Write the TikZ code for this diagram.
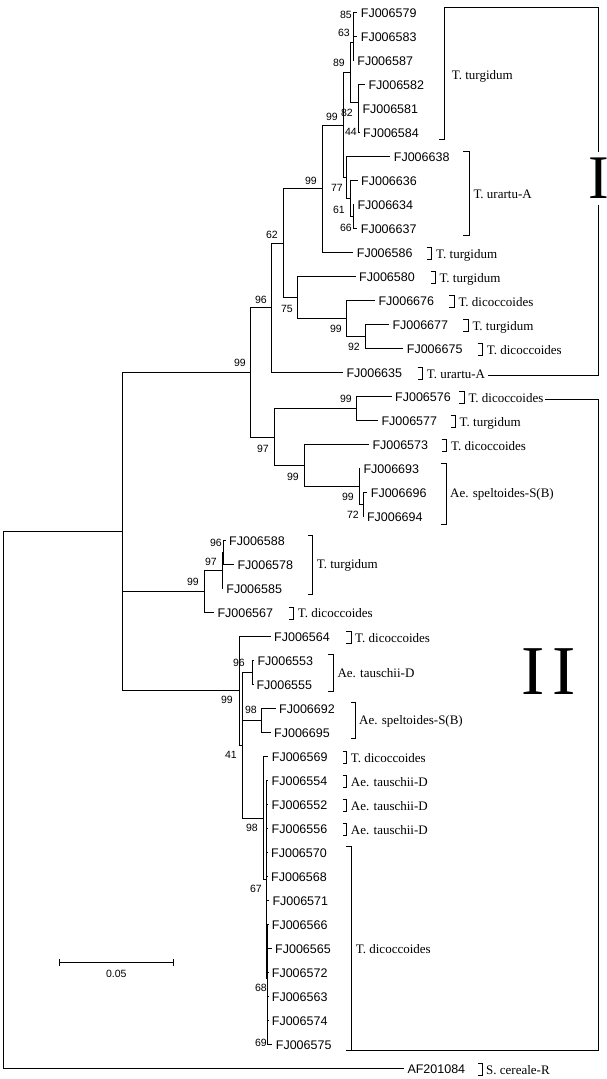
\documentclass[tikz,border=0pt]{standalone}
\usepackage{fontspec}
\setmainfont{Liberation Serif}
\setsansfont{Liberation Sans}

\begin{document}
\begin{tikzpicture}[x=1pt, y=-1pt,
  branch/.style={line width=0.9pt},
  brk/.style={line width=0.9pt},
  leaf/.style={anchor=base west, inner sep=0pt, xshift=3.5pt, yshift=-4.7pt, font=\fontsize{12.5}{14}\sffamily},
  boot/.style={anchor=base east, inner sep=0pt, yshift=-3.7pt, font=\fontsize{10.5}{12}\sffamily},
  taxon/.style={anchor=base west, inner sep=0pt, yshift=-4.3pt, font=\fontsize{13}{15}\selectfont},
  group/.style={inner sep=0pt, font=\fontsize{62}{66}\selectfont}
]
\path[fill=white, use as bounding box] (0,0) rectangle (607,1079);

\path (357.2,12.5) coordinate (t579) node[leaf] (l579) {FJ006579};
\path (357.2,36.5) coordinate (t583) node[leaf] (l583) {FJ006583};
\path (353.7,60.5) coordinate (t587) node[leaf] (l587) {FJ006587};
\path (364.8,84.5) coordinate (t582) node[leaf] (l582) {FJ006582};
\path (358.8,108.5) coordinate (t581) node[leaf] (l581) {FJ006581};
\path (359.5,132.5) coordinate (t584) node[leaf] (l584) {FJ006584};
\path (390.2,156.5) coordinate (t638) node[leaf] (l638) {FJ006638};
\path (357.5,180.5) coordinate (t636) node[leaf] (l636) {FJ006636};
\path (353.8,204.5) coordinate (t634) node[leaf] (l634) {FJ006634};
\path (357.2,228.5) coordinate (t637) node[leaf] (l637) {FJ006637};
\path (353.2,252.5) coordinate (t586) node[leaf] (l586) {FJ006586};
\path (355.5,276.5) coordinate (t580) node[leaf] (l580) {FJ006580};
\path (374.8,300.5) coordinate (t676) node[leaf] (l676) {FJ006676};
\path (388.8,324.5) coordinate (t677) node[leaf] (l677) {FJ006677};
\path (403.2,348.5) coordinate (t675) node[leaf] (l675) {FJ006675};
\path (342.8,372.5) coordinate (t635) node[leaf] (l635) {FJ006635};
\path (391.5,396.5) coordinate (t576) node[leaf] (l576) {FJ006576};
\path (377.8,420.5) coordinate (t577) node[leaf] (l577) {FJ006577};
\path (368.8,444.5) coordinate (t573) node[leaf] (l573) {FJ006573};
\path (359.8,468.5) coordinate (t693) node[leaf] (l693) {FJ006693};
\path (367.2,492.5) coordinate (t696) node[leaf] (l696) {FJ006696};
\path (363.3,516.5) coordinate (t694) node[leaf] (l694) {FJ006694};
\path (225.5,540.5) coordinate (t588) node[leaf] (l588) {FJ006588};
\path (233.8,564.5) coordinate (t578) node[leaf] (l578) {FJ006578};
\path (222.7,588.5) coordinate (t585) node[leaf] (l585) {FJ006585};
\path (213.8,612.5) coordinate (t567) node[leaf] (l567) {FJ006567};
\path (270.5,636.5) coordinate (t564) node[leaf] (l564) {FJ006564};
\path (253.8,660.5) coordinate (t553) node[leaf] (l553) {FJ006553};
\path (252.8,684.5) coordinate (t555) node[leaf] (l555) {FJ006555};
\path (275.5,708.5) coordinate (t692) node[leaf] (l692) {FJ006692};
\path (270.5,732.5) coordinate (t695) node[leaf] (l695) {FJ006695};
\path (268.2,756.5) coordinate (t569) node[leaf] (l569) {FJ006569};
\path (268.0,780.5) coordinate (t554) node[leaf] (l554) {FJ006554};
\path (268.0,804.5) coordinate (t552) node[leaf] (l552) {FJ006552};
\path (268.0,828.5) coordinate (t556) node[leaf] (l556) {FJ006556};
\path (267.5,852.5) coordinate (t570) node[leaf] (l570) {FJ006570};
\path (267.5,876.5) coordinate (t568) node[leaf] (l568) {FJ006568};
\path (268.8,900.5) coordinate (t571) node[leaf] (l571) {FJ006571};
\path (268.2,924.5) coordinate (t566) node[leaf] (l566) {FJ006566};
\path (271.5,948.5) coordinate (t565) node[leaf] (l565) {FJ006565};
\path (268.2,972.5) coordinate (t572) node[leaf] (l572) {FJ006572};
\path (268.2,996.5) coordinate (t563) node[leaf] (l563) {FJ006563};
\path (268.2,1020.5) coordinate (t574) node[leaf] (l574) {FJ006574};
\path (272.2,1044.5) coordinate (t575) node[leaf] (l575) {FJ006575};
\path (403.8,1068.5) coordinate (tAF) node[leaf] (lAF) {AF201084};

\coordinate (n85) at (353.7,24.5);  \coordinate (n63) at (353.7,42.5);
\coordinate (n44) at (358.3,120.5); \coordinate (n82) at (358.3,102.5);
\coordinate (n89) at (350.7,72.5);  \coordinate (n66) at (353.3,216.5);
\coordinate (n61) at (350.7,198.5); \coordinate (n77) at (346.7,177.5);
\coordinate (n99b) at (343.3,125);  \coordinate (n99a) at (322.3,188.75);
\coordinate (n92) at (365,336.5);   \coordinate (n99c) at (346,318.5);
\coordinate (n75) at (297.7,297.5); \coordinate (n62) at (283.3,243.1);
\coordinate (n96) at (271.7,307.8); \coordinate (n99d) at (356.7,408.5);
\coordinate (n72) at (363.3,504.5); \coordinate (n99e) at (359,486.5);
\coordinate (n99f) at (304,465.5);  \coordinate (n97) at (274.3,437);
\coordinate (n99top) at (250.7,372.4);
\coordinate (n96b) at (223.3,552.5); \coordinate (n97b) at (222.7,570.5);
\coordinate (n99g) at (204.3,591.5); \coordinate (n96c) at (252.7,672.5);
\coordinate (n98) at (261.7,720.5);  \coordinate (n69) at (267.7,1032.5);
\coordinate (n68) at (267.7,978.5);  \coordinate (n67) at (266.7,879.5);
\coordinate (n98b) at (263.3,818);   \coordinate (n41) at (242.7,745.25);
\coordinate (n99h) at (239.3,690.9); \coordinate (nin) at (122.7,531.6);
\coordinate (nroot) at (3.3,800);

\draw[branch] (n85) |- (t579) (n85) |- (t583);
\draw[branch] (n63) |- (n85) (n63) |- (t587);
\draw[branch] (n44) |- (t581) (n44) |- (t584);
\draw[branch] (n82) |- (t582) (n82) |- (n44);
\draw[branch] (n89) |- (n63) (n89) |- (n82);
\draw[branch] (n66) |- (t634) (n66) |- (t637);
\draw[branch] (n61) |- (t636) (n61) |- (n66);
\draw[branch] (n77) |- (t638) (n77) |- (n61);
\draw[branch] (n99b) |- (n89) (n99b) |- (n77);
\draw[branch] (n99a) |- (n99b) (n99a) |- (t586);
\draw[branch] (n92) |- (t677) (n92) |- (t675);
\draw[branch] (n99c) |- (t676) (n99c) |- (n92);
\draw[branch] (n75) |- (t580) (n75) |- (n99c);
\draw[branch] (n62) |- (n99a) (n62) |- (n75);
\draw[branch] (n96) |- (n62) (n96) |- (t635);
\draw[branch] (n99d) |- (t576) (n99d) |- (t577);
\draw[branch] (n72) |- (t696) (n72) |- (t694);
\draw[branch] (n99e) |- (t693) (n99e) |- (n72);
\draw[branch] (n99f) |- (t573) (n99f) |- (n99e);
\draw[branch] (n97) |- (n99d) (n97) |- (n99f);
\draw[branch] (n99top) |- (n96) (n99top) |- (n97);
\draw[branch] (n96b) |- (t588) (n96b) |- (t578);
\draw[branch] (n97b) |- (n96b) (n97b) |- (t585);
\draw[branch] (n99g) |- (n97b) (n99g) |- (t567);
\draw[branch] (n96c) |- (t553) (n96c) |- (t555);
\draw[branch] (n98) |- (t692) (n98) |- (t695);
\draw[branch] (n69) |- (t574) (n69) |- (t575);
\draw[branch] (n68) |- (t566) (n68) |- (t565) (n68) |- (t572) (n68) |- (t563) (n68) |- (n69);
\draw[branch] (n67) |- (t554) (n67) |- (t552) (n67) |- (t556) (n67) |- (t570) (n67) |- (t568) (n67) |- (t571) (n67) |- (n68);
\draw[branch] (n98b) |- (t569) (n98b) |- (n67);
\draw[branch] (n41) |- (n96c) (n41) |- (n98) (n41) |- (n98b);
\draw[branch] (n99h) |- (t564) (n99h) |- (n41);
\draw[branch] (nin) |- (n99top) (nin) |- (n99g) (nin) |- (n99h);
\draw[branch] (nroot) |- (nin) (nroot) |- (tAF);

\node[boot] (bn85) at (352,15) {85};
\node[boot] (bn63) at (350,33) {63};
\node[boot] (bn89) at (345,63) {89};
\node[boot] (bn99b) at (338,117) {99};
\node[boot] (bn82) at (353,113) {82};
\node[boot] (bn44) at (357,132) {44};
\node[boot] (bn77) at (343,188) {77};
\node[boot] (bn61) at (345,210) {61};
\node[boot] (bn66) at (352,228) {66};
\node[boot] (bn99a) at (317,181) {99};
\node[boot] (bn62) at (278,235) {62};
\node[boot] (bn96) at (267,300) {96};
\node[boot] (bn75) at (293,309) {75};
\node[boot] (bn99c) at (342,329) {99};
\node[boot] (bn92) at (360,347) {92};
\node[boot] (bn99top) at (246,363) {99};
\node[boot] (bn99d) at (352,399) {99};
\node[boot] (bn97) at (269,449) {97};
\node[boot] (bn99f) at (299,477) {99};
\node[boot] (bn99e) at (354,497) {99};
\node[boot] (bn72) at (359,515) {72};
\node[boot] (bn96b) at (222,543) {96};
\node[boot] (bn97b) at (217,562) {97};
\node[boot] (bn99g) at (199,582) {99};
\node[boot] (bn99h) at (233,700) {99};
\node[boot] (bn96c) at (245,663) {96};
\node[boot] (bn98) at (257,710) {98};
\node[boot] (bn41) at (237,755) {41};
\node[boot] (bn98b) at (258,828) {98};
\node[boot] (bn67) at (262,889) {67};
\node[boot] (bn68) at (267,988) {68};
\node[boot] (bn69) at (267,1043) {69};

\draw[brk] (439.3,139.3) -- (444.3,139.3) |- (598.3,7.3) -- (598.3,151.7);
\draw[brk] (598.3,205) |- (488,375);
\node[group] (gI) at (598.5,178) {I};
\draw[brk] (545,399) -| (598.3,1050.7) -- (346,1050.7);
\node[group, font=\fontsize{70}{74}\selectfont] (gII) at (548.5,671.5) {I\kern7pt I};

\draw[brk] (463.3,151.7) -| (469.3,235.7) -- (463.3,235.7);
\draw[brk] (426.7,247) -| (431.7,259.5) -- (426.7,259.5);
\draw[brk] (430.7,271) -| (435,283.5) -- (430.7,283.5);
\draw[brk] (449.3,295) -| (454.3,307.5) -- (449.3,307.5);
\draw[brk] (463.3,319) -| (468.3,331.5) -- (463.3,331.5);
\draw[brk] (477.7,343) -| (482.7,355.5) -- (477.7,355.5);
\draw[brk] (417.7,367) -| (422.7,379.5) -- (417.7,379.5);
\draw[brk] (459.3,391) -| (464.3,403.5) -- (459.3,403.5);
\draw[brk] (450.7,415) -| (455,427.5) -- (450.7,427.5);
\draw[brk] (441.7,439) -| (446.7,451.5) -- (441.7,451.5);
\draw[brk] (440.7,463.3) -| (446,524) -- (440.7,524);
\draw[brk] (308.3,535) -| (312.3,594) -- (308.3,594);
\draw[brk] (289.3,607) -| (293.3,619.5) -- (289.3,619.5);
\draw[brk] (346,631) -| (351,643) -- (346,643);
\draw[brk] (328.3,654.3) -| (333.3,691) -- (328.3,691);
\draw[brk] (350.7,702.7) -| (355,738.3) -- (350.7,738.3);
\draw[brk] (342.7,751) -| (346.7,763.5) -- (342.7,763.5);
\draw[brk] (342.7,775) -| (346.7,787.5) -- (342.7,787.5);
\draw[brk] (342.7,799) -| (346.7,811.5) -- (342.7,811.5);
\draw[brk] (342.7,823) -| (346.7,835.5) -- (342.7,835.5);
\draw[brk] (346,846.7) -| (351.7,1050.7);
\draw[brk] (478,1063) -| (482,1075.5) -- (478,1075.5);

\node[taxon] (s1) at (451.7,75) {T. turgidum};
\node[taxon] (s2) at (473.3,194) {T. urartu-A};
\node[taxon] (s3) at (436,254) {T. turgidum};
\node[taxon] (s4) at (439.3,278) {T. turgidum};
\node[taxon] (s5) at (458.3,302) {T. dicoccoides};
\node[taxon] (s6) at (472.3,326) {T. turgidum};
\node[taxon] (s7) at (486.7,350) {T. dicoccoides};
\node[taxon] (s8) at (426.7,374) {T. urartu-A};
\node[taxon] (s9) at (468.3,398) {T. dicoccoides};
\node[taxon] (s10) at (459.5,422) {T. turgidum};
\node[taxon] (s11) at (451,446) {T. dicoccoides};
\node[taxon] (s12) at (450,493.5) {Ae. speltoides-S(B)};
\node[taxon] (s13) at (316.7,564.5) {T. turgidum};
\node[taxon] (s14) at (297.7,613) {T. dicoccoides};
\node[taxon] (s15) at (355,638) {T. dicoccoides};
\node[taxon] (s16) at (337.3,673.5) {Ae. tauschii-D};
\node[taxon] (s17) at (359,720.5) {Ae. speltoides-S(B)};
\node[taxon] (s18) at (350.7,758) {T. dicoccoides};
\node[taxon] (s19) at (350.7,782) {Ae. tauschii-D};
\node[taxon] (s20) at (350.7,806) {Ae. tauschii-D};
\node[taxon] (s21) at (350.7,830) {Ae. tauschii-D};
\node[taxon] (s22) at (355.7,949) {T. dicoccoides};
\node[taxon] (s23) at (486,1070) {S. cereale-R};

\coordinate (sb0) at (59.3,962.3); \coordinate (sb1) at (173.3,962.3);
\draw[branch] (sb0) -- (sb1);
\draw[branch] ([yshift=3.3pt]sb0) -- ([yshift=-3.3pt]sb0);
\draw[branch] ([yshift=3.3pt]sb1) -- ([yshift=-3.3pt]sb1);
\node[boot, anchor=base] (sblab) at (116.3,973.3) {0.05};
\end{tikzpicture}
\end{document}
